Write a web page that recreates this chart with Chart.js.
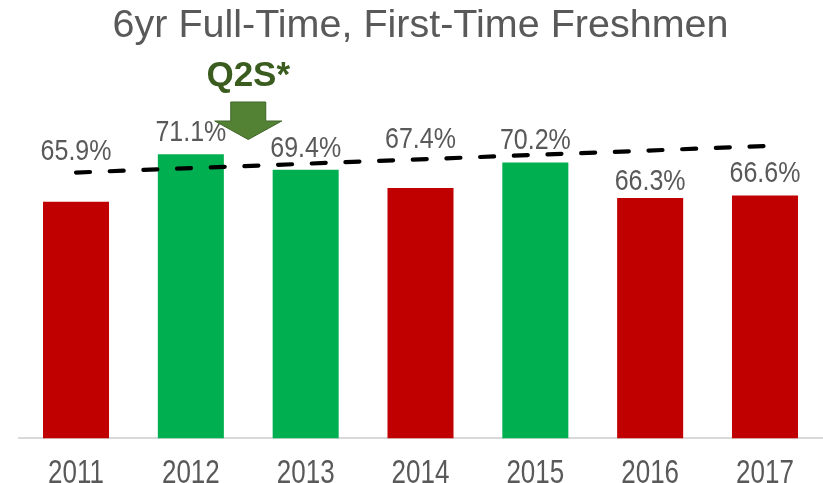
<!DOCTYPE html>
<html>
<head>
<meta charset="utf-8">
<script src="https://cdn.jsdelivr.net/npm/chart.js@4.4.0/dist/chart.umd.min.js"></script>
<style>
  html, body { margin: 0; padding: 0; background: #fff; overflow: hidden; }
</style>
</head>
<body>
<canvas id="chart" width="823" height="506"></canvas>
<script>
// values
const years = ["2011", "2012", "2013", "2014", "2015", "2016", "2017"];
const rates = [65.9, 71.1, 69.4, 67.4, 70.2, 66.3, 66.6];
const trend = [69.1, null, null, null, null, null, 72.0];
const barColors = ["#C00000", "#00B050", "#00B050", "#C00000", "#00B050", "#C00000", "#C00000"];
// how far each value label sits above its bar (px)
const labelLift = [50, 22, 21.5, 48.5, 22, 16.5, 22];

const FONT = "'Liberation Sans', Arial, sans-serif";

// value labels, year labels (a bit tall, like the original) + the Q2S* arrow
const annotate = {
  id: "annotate",
  afterDatasetsDraw(chart) {
    const ctx = chart.ctx;
    const bars = chart.getDatasetMeta(1).data;
    const area = chart.chartArea;
    const top = area.top;

    ctx.save();
    ctx.fillStyle = "#595959";
    ctx.font = "25px " + FONT;
    ctx.textAlign = "center";
    ctx.textBaseline = "middle";
    bars.forEach((bar, i) => {
      ctx.save();
      ctx.translate(bar.x, bar.y - labelLift[i]);
      ctx.scale(1, 1.2);
      ctx.fillText(rates[i].toFixed(1) + "%", 0, 0);
      ctx.restore();
    });

    ctx.font = "26px " + FONT;
    ctx.textBaseline = "alphabetic";
    const xs = chart.scales.x;
    years.forEach((y, i) => {
      ctx.save();
      ctx.translate(xs.getPixelForTick(i), area.bottom + 45);
      ctx.scale(1, 1.3);
      ctx.fillText(y, 0, 0);
      ctx.restore();
    });

    // arrow between 2012 and 2013
    let ax = (bars[1].x + bars[2].x) / 2;
    ctx.textBaseline = "middle";
    ctx.fillStyle = "#3A5C1E";
    ctx.font = "bold 35px " + FONT;
    ctx.fillText("Q2S*", ax, top + 3);

    ctx.beginPath();
    ctx.moveTo(ax - 17.5, top + 29);
    ctx.lineTo(ax + 17.5, top + 29);
    ctx.lineTo(ax + 17.5, top + 48);
    ctx.lineTo(ax + 33.5, top + 48);
    ctx.lineTo(ax, top + 66.5);
    ctx.lineTo(ax - 33.5, top + 48);
    ctx.lineTo(ax - 17.5, top + 48);
    ctx.closePath();
    ctx.fillStyle = "#548235";
    ctx.fill();
    ctx.strokeStyle = "#3F6428";
    ctx.lineWidth = 1;
    ctx.stroke();
    ctx.restore();
  }
};

new Chart(document.getElementById("chart"), {
  data: {
    labels: years,
    datasets: [
      {
        type: "line",
        data: trend,
        spanGaps: true,
        borderColor: "#000000",
        borderWidth: 4.2,
        borderDash: [14, 19.7],
        borderCapStyle: "round",
        pointRadius: 0,
        order: 0
      },
      {
        type: "bar",
        data: rates,
        backgroundColor: barColors,
        categoryPercentage: 1,
        barPercentage: 0.575,
        order: 1
      }
    ]
  },
  options: {
    responsive: false,
    animation: false,
    layout: { padding: { left: 18.6, right: 0.6, top: 0, bottom: 0.5 } },
    plugins: {
      legend: { display: false },
      tooltip: { enabled: false },
      title: {
        display: true,
        text: "6yr Full-Time, First-Time Freshmen",
        color: "#595959",
        font: { family: FONT, size: 39.5, weight: "normal", lineHeight: 1.2 },
        padding: { top: 2.3, bottom: 23.3 }
      }
    },
    scales: {
      x: {
        grid: { display: false, drawTicks: false },
        border: { display: true, color: "#D9D9D9", width: 2 },
        ticks: {
          color: "rgba(0,0,0,0)",   // drawn by the plugin instead
          padding: 18,
          font: { family: FONT, size: 26 }
        }
      },
      y: {
        display: false,
        min: 40,
        max: 80
      }
    }
  },
  plugins: [annotate]
});
</script>
</body>
</html>
